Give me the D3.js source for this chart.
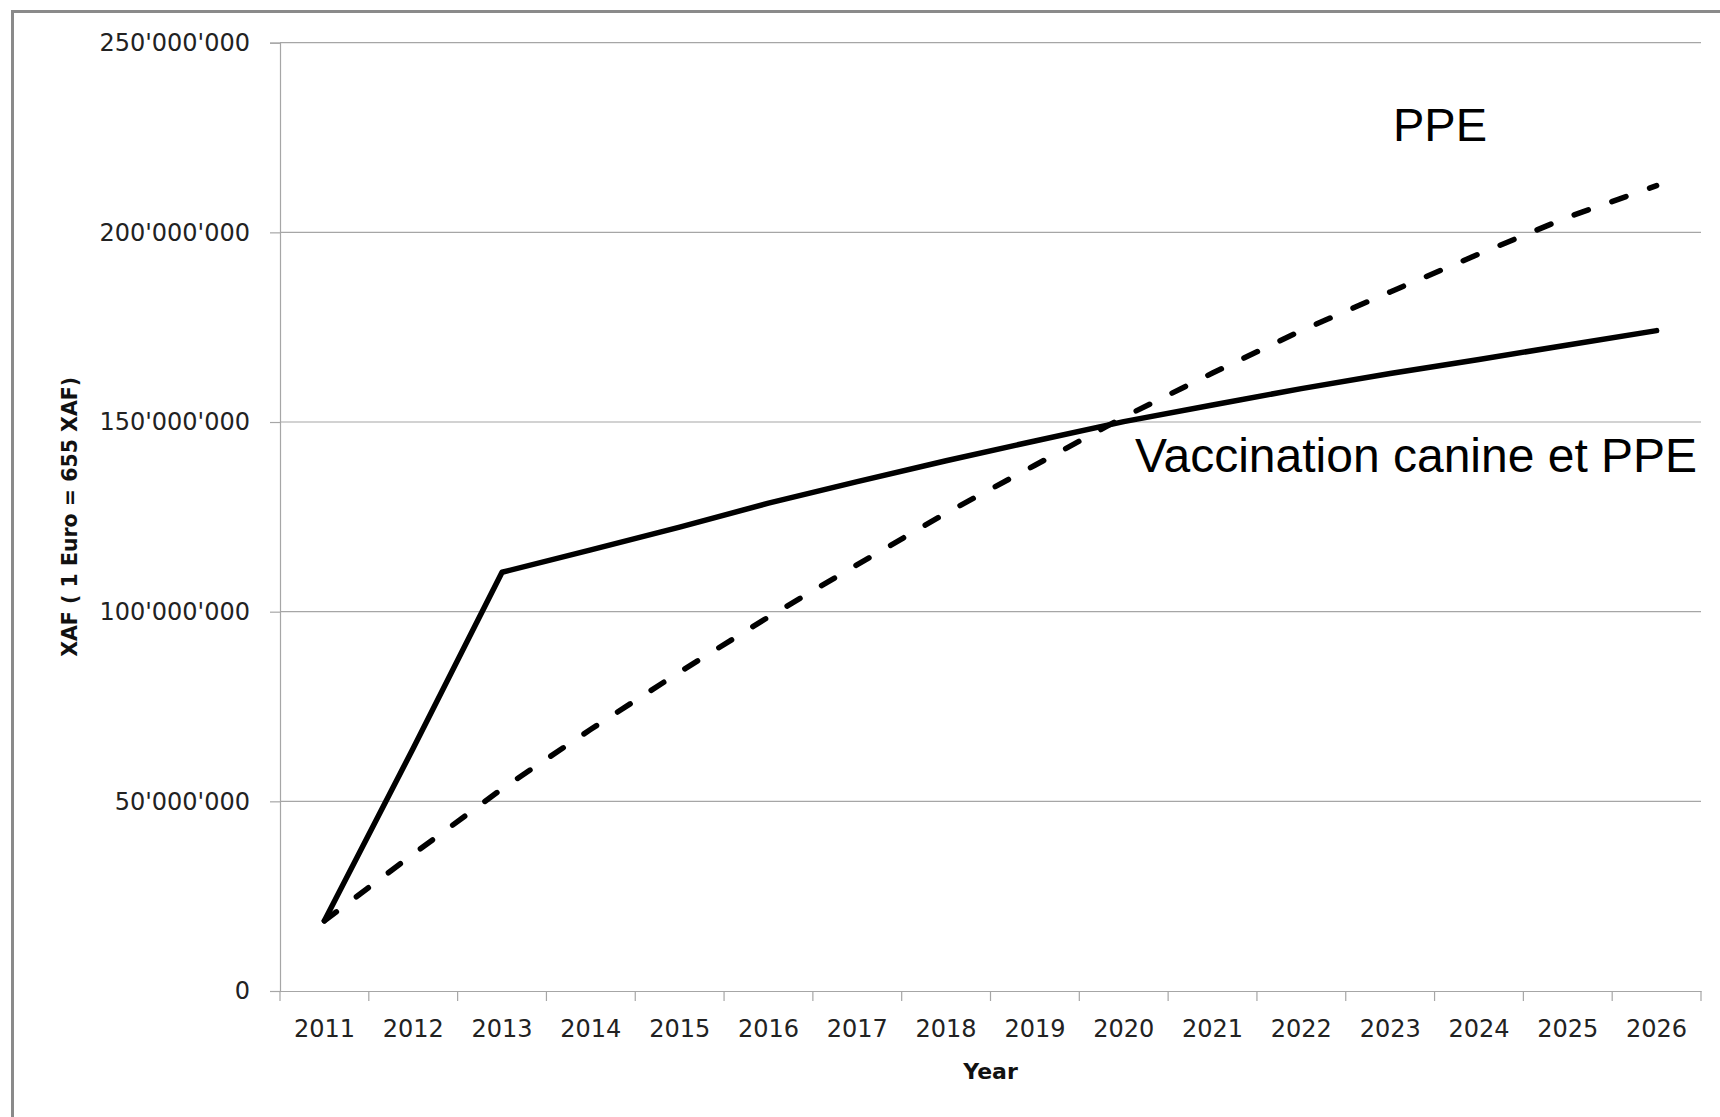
<!DOCTYPE html>
<html>
<head>
<meta charset="utf-8">
<script src="https://cdn.jsdelivr.net/npm/d3@7"></script>
<style>
  body { margin: 0; background: #fff; }
  svg { display: block; }
</style>
</head>
<body>
<script>
var years = ["2011","2012","2013","2014","2015","2016","2017","2018","2019","2020","2021","2022","2023","2024","2025","2026"];
// XAF
var vaccination = [18.5e6, 64e6, 110.4e6, 116.3e6, 122.3e6, 128.6e6, 134.3e6, 139.8e6, 145.0e6, 150.1e6, 154.5e6, 158.8e6, 162.8e6, 166.5e6, 170.3e6, 174.1e6];
var ppe = [18.5e6, 36.1e6, 53.3e6, 69.0e6, 84.1e6, 98.6e6, 112.4e6, 126.0e6, 138.6e6, 151.3e6, 162.9e6, 174.1e6, 184.3e6, 194.3e6, 204.0e6, 212.3e6];
var yTicks = [0, 50e6, 100e6, 150e6, 200e6, 250e6];

var W = 1720, H = 1117,
    plotLeft = 280, plotRight = 1701, plotTop = 42.7, plotBottom = 991;

var svg = d3.select("body").append("svg")
    .attr("width", W)
    .attr("height", H);

svg.append("rect")
    .attr("width", W).attr("height", H)
    .attr("fill", "#fff");

// outer frame (only left and top visible)
svg.append("rect")
    .attr("x", 12.5).attr("y", 11.5)
    .attr("width", W + 20).attr("height", H + 20)
    .attr("fill", "none")
    .attr("stroke", "#8a8a8a")
    .attr("stroke-width", 3);

var x = d3.scaleBand().domain(years).range([plotLeft, plotRight]).padding(0),
    y = d3.scaleLinear().domain([0, 250e6]).range([plotBottom, plotTop]);

var fmt = function(v) { return d3.format(",")(v).replace(/,/g, "'"); };

// gridlines
svg.append("g")
  .selectAll("line")
  .data(yTicks.slice(1))
  .enter().append("line")
    .attr("x1", plotLeft).attr("x2", plotRight)
    .attr("y1", function(d) { return y(d); })
    .attr("y2", function(d) { return y(d); })
    .attr("stroke", "#a6a6a6")
    .attr("stroke-width", 1.2);

// y axis
var yAxis = svg.append("g")
    .attr("transform", "translate(" + plotLeft + ",0)")
    .call(d3.axisLeft(y).tickValues(yTicks).tickFormat(fmt).tickSize(10).tickPadding(20));
yAxis.select(".domain").attr("stroke", "#a6a6a6").attr("stroke-width", 1.2);
yAxis.selectAll(".tick line").attr("stroke", "#a6a6a6").attr("stroke-width", 1.2);
yAxis.selectAll("text")
    .attr("fill", "#222")
    .style("font", "24px 'DejaVu Sans'");

// x axis: labels centred in bands, ticks on band edges
var xAxis = svg.append("g")
    .attr("transform", "translate(0," + plotBottom + ")")
    .call(d3.axisBottom(x).tickSize(0).tickPadding(29));
xAxis.select(".domain").attr("stroke", "#a6a6a6").attr("stroke-width", 1.2);
xAxis.selectAll("text")
    .attr("fill", "#222")
    .style("font", "24px 'DejaVu Sans'");

function edgeX(d, i) {
  return i < years.length ? x(d) : x(years[years.length - 1]) + x.bandwidth();
}
xAxis.selectAll(".edge")
    .data(years.concat(["end"]))
    .enter().append("line")
    .attr("class", "edge")
    .attr("x1", edgeX)
    .attr("x2", edgeX)
    .attr("y1", 0).attr("y2", 10)
    .attr("stroke", "#a6a6a6")
    .attr("stroke-width", 1.2);

// axis titles
svg.append("text")
    .attr("transform", "translate(70," + ((plotTop + plotBottom) / 2) + ") rotate(-90)")
    .attr("text-anchor", "middle")
    .attr("dy", "0.35em")
    .style("font", "bold 20.5px 'DejaVu Sans'")
    .attr("fill", "#111")
    .text("XAF ( 1 Euro = 655 XAF)");

svg.append("text")
    .attr("x", (plotLeft + plotRight) / 2)
    .attr("y", 1079)
    .attr("text-anchor", "middle")
    .style("font", "bold 22px 'DejaVu Sans'")
    .attr("fill", "#111")
    .text("Year");

// lines
var line = d3.line()
    .x(function(d, i) { return x(years[i]) + x.bandwidth() / 2; })
    .y(function(d) { return y(d); });

svg.append("path")
    .datum(ppe)
    .attr("fill", "none")
    .attr("stroke", "#000")
    .attr("stroke-width", 5.5)
    .attr("stroke-linecap", "round")
    .attr("stroke-dasharray", "15,25")
    .attr("d", line);

svg.append("path")
    .datum(vaccination)
    .attr("fill", "none")
    .attr("stroke", "#000")
    .attr("stroke-width", 5.5)
    .attr("stroke-linecap", "round")
    .attr("stroke-linejoin", "round")
    .attr("d", line);

// series labels
svg.append("text")
    .attr("x", 1393).attr("y", 141)
    .style("font", "47px 'Liberation Sans'")
    .attr("fill", "#000")
    .text("PPE");

svg.append("text")
    .attr("x", 1135).attr("y", 472)
    .style("font", "48px 'Liberation Sans'")
    .attr("fill", "#000")
    .text("Vaccination canine et PPE");
</script>
</body>
</html>
